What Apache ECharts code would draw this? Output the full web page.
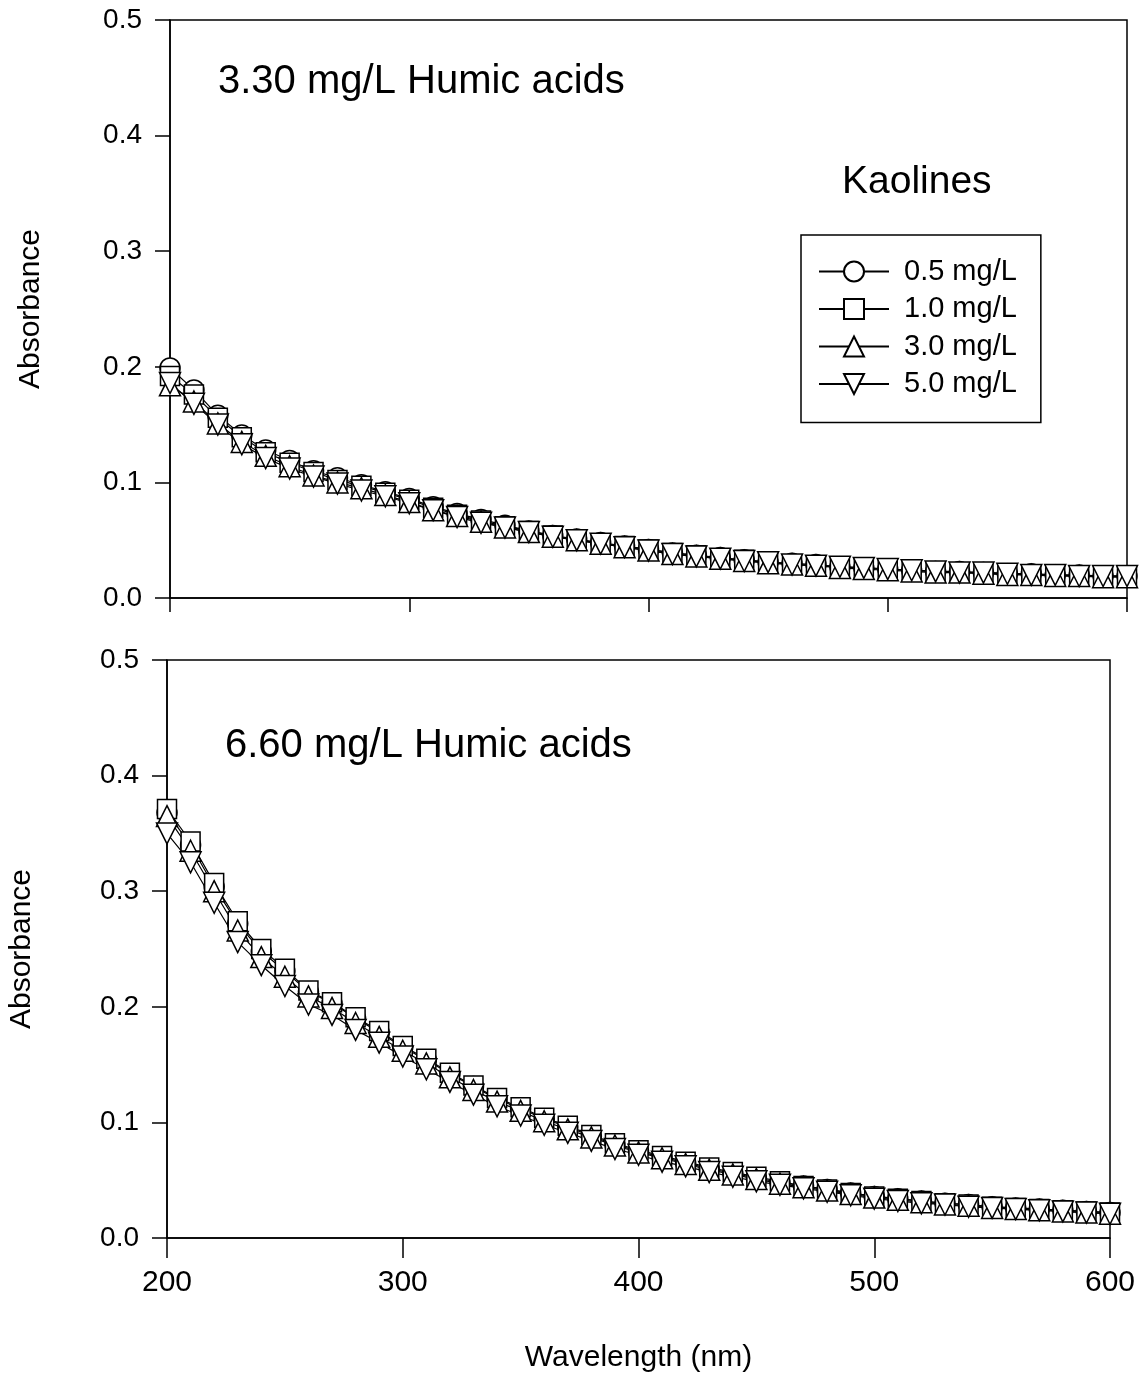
<!DOCTYPE html>
<html>
<head>
<meta charset="utf-8">
<script src="https://cdn.jsdelivr.net/npm/echarts@6/dist/echarts.min.js"></script>
<style>
  html, body { margin: 0; padding: 0; background: #fff; }
  #chart { width: 1147px; height: 1373px; }
</style>
</head>
<body>
<div id="chart"></div>
<script>
// wavelengths, 200..600 nm every 10 nm
const wavelength = [200, 210, 220, 230, 240, 250, 260, 270, 280, 290, 300, 310, 320, 330, 340, 350, 360, 370, 380, 390,
  400, 410, 420, 430, 440, 450, 460, 470, 480, 490, 500, 510, 520, 530, 540, 550, 560, 570, 580, 590, 600];

const seriesNames = ['0.5 mg/L', '1.0 mg/L', '3.0 mg/L', '5.0 mg/L'];
const yTicks = [0.0, 0.1, 0.2, 0.3, 0.4, 0.5];

// 3.30 mg/L humic acids
const top05 = [0.199, 0.180, 0.158, 0.141, 0.128, 0.119, 0.110, 0.104, 0.098, 0.092, 0.086, 0.079, 0.073, 0.068, 0.063, 0.058, 0.054, 0.051, 0.048, 0.045,
  0.042, 0.039, 0.037, 0.035, 0.033, 0.031, 0.030, 0.029, 0.027, 0.026, 0.025, 0.024, 0.023, 0.023, 0.022, 0.021, 0.021, 0.020, 0.020, 0.019, 0.019];
const top10 = [0.192, 0.176, 0.156, 0.139, 0.126, 0.117, 0.109, 0.102, 0.097, 0.091, 0.085, 0.078, 0.072, 0.067, 0.062, 0.058, 0.054, 0.050, 0.047, 0.045,
  0.042, 0.039, 0.037, 0.034, 0.033, 0.031, 0.029, 0.028, 0.027, 0.026, 0.025, 0.024, 0.023, 0.022, 0.022, 0.021, 0.020, 0.020, 0.019, 0.019, 0.019];
const top30 = [0.184, 0.170, 0.151, 0.135, 0.123, 0.114, 0.106, 0.100, 0.095, 0.089, 0.083, 0.076, 0.071, 0.066, 0.061, 0.057, 0.053, 0.050, 0.047, 0.044,
  0.041, 0.038, 0.036, 0.034, 0.032, 0.030, 0.029, 0.028, 0.026, 0.025, 0.024, 0.023, 0.022, 0.022, 0.021, 0.020, 0.020, 0.019, 0.019, 0.018, 0.018];
const top50 = [0.186, 0.168, 0.150, 0.133, 0.121, 0.112, 0.105, 0.099, 0.093, 0.088, 0.082, 0.076, 0.070, 0.065, 0.061, 0.057, 0.053, 0.050, 0.047, 0.044,
  0.041, 0.038, 0.036, 0.034, 0.032, 0.031, 0.029, 0.028, 0.027, 0.026, 0.025, 0.024, 0.023, 0.022, 0.022, 0.021, 0.020, 0.020, 0.019, 0.019, 0.019];

// 6.60 mg/L humic acids
const bot05 = [0.368, 0.340, 0.304, 0.272, 0.248, 0.231, 0.213, 0.203, 0.190, 0.178, 0.165, 0.154, 0.142, 0.131, 0.120, 0.112, 0.103, 0.096, 0.088, 0.081,
  0.075, 0.070, 0.065, 0.060, 0.056, 0.052, 0.048, 0.045, 0.042, 0.039, 0.036, 0.034, 0.032, 0.030, 0.029, 0.027, 0.026, 0.025, 0.024, 0.023, 0.022];
const bot10 = [0.371, 0.343, 0.307, 0.274, 0.250, 0.233, 0.214, 0.204, 0.191, 0.179, 0.166, 0.155, 0.143, 0.132, 0.121, 0.113, 0.104, 0.097, 0.089, 0.082,
  0.076, 0.071, 0.066, 0.061, 0.057, 0.053, 0.049, 0.045, 0.042, 0.039, 0.036, 0.034, 0.032, 0.030, 0.029, 0.027, 0.026, 0.025, 0.024, 0.023, 0.022];
const bot30 = [0.365, 0.335, 0.300, 0.266, 0.243, 0.226, 0.209, 0.199, 0.186, 0.174, 0.162, 0.151, 0.139, 0.128, 0.118, 0.110, 0.101, 0.094, 0.087, 0.080,
  0.074, 0.069, 0.064, 0.059, 0.055, 0.051, 0.047, 0.044, 0.041, 0.038, 0.035, 0.033, 0.031, 0.029, 0.028, 0.026, 0.025, 0.024, 0.023, 0.022, 0.021];
const bot50 = [0.350, 0.325, 0.290, 0.256, 0.236, 0.218, 0.202, 0.193, 0.180, 0.169, 0.157, 0.146, 0.135, 0.124, 0.114, 0.106, 0.098, 0.091, 0.084, 0.077,
  0.072, 0.066, 0.062, 0.057, 0.053, 0.049, 0.046, 0.043, 0.040, 0.037, 0.034, 0.032, 0.030, 0.029, 0.027, 0.026, 0.025, 0.024, 0.023, 0.022, 0.021];

const font = 'Liberation Sans, Arial, sans-serif';
const symbols = [
  { symbol: 'circle', size: 20, rotate: 0 },
  { symbol: 'rect', size: 19, rotate: 0 },
  { symbol: 'triangle', size: 21, rotate: 0 },
  { symbol: 'triangle', size: 21, rotate: 180 }
];

function pairs(ys) {
  return wavelength.map((w, i) => [w, ys[i]]);
}

function makeSeries(data, idx) {
  return data.map((ys, k) => ({
    name: seriesNames[k],
    type: 'line',
    xAxisIndex: idx,
    yAxisIndex: idx,
    data: pairs(ys),
    symbol: symbols[k].symbol,
    symbolSize: symbols[k].size,
    symbolRotate: symbols[k].rotate,
    showAllSymbol: true,
    lineStyle: { color: '#000', width: 1.2 },
    itemStyle: { color: '#fff', borderColor: '#000', borderWidth: 1.5 },
    emphasis: { disabled: true },
    animation: false
  }));
}

function xAxis(idx, showLabels) {
  return {
    type: 'value', gridIndex: idx, min: 200, max: 600, interval: 100,
    axisLine: { lineStyle: { color: '#000', width: 1.5 } },
    axisTick: { show: true, length: showLabels ? 20 : 14, lineStyle: { color: '#000', width: 1.5 } },
    axisLabel: { show: showLabels, color: '#000', fontSize: 30, fontFamily: font, margin: 30 },
    splitLine: { show: false },
    name: showLabels ? 'Wavelength (nm)' : '',
    nameLocation: 'middle', nameGap: 105,
    nameTextStyle: { color: '#000', fontSize: 30, fontFamily: font }
  };
}

function yAxis(idx) {
  return {
    type: 'value', gridIndex: idx, min: 0, max: 0.5, interval: 0.1,
    axisLine: { lineStyle: { color: '#000', width: 1.5 } },
    axisTick: { show: true, length: 15, lineStyle: { color: '#000', width: 1.5 } },
    axisLabel: { color: '#000', fontSize: 28, fontFamily: font, margin: 28, formatter: v => v.toFixed(1) },
    splitLine: { show: false },
    name: 'Absorbance', nameLocation: 'middle', nameGap: idx === 0 ? 124 : 130,
    nameTextStyle: { color: '#000', fontSize: 30, fontFamily: font }
  };
}

const chart = echarts.init(document.getElementById('chart'), null, { renderer: 'canvas' });
chart.setOption({
  backgroundColor: '#fff',
  animation: false,
  grid: [
    { left: 170, right: 20, top: 20, height: 578, outerBoundsMode: 'none', containLabel: false,
      show: true, borderColor: '#000', borderWidth: 1.5, backgroundColor: 'transparent' },
    { left: 167, right: 37, top: 660, height: 578, outerBoundsMode: 'none', containLabel: false,
      show: true, borderColor: '#000', borderWidth: 1.5, backgroundColor: 'transparent' }
  ],
  xAxis: [xAxis(0, false), xAxis(1, true)],
  yAxis: [yAxis(0), yAxis(1)],
  legend: {
    data: seriesNames,
    orient: 'vertical',
    left: 801, top: 235,
    padding: [22, 24, 24, 17],
    itemGap: 8.5,
    itemWidth: 70, itemHeight: 25,
    borderColor: '#000', borderWidth: 1.5,
    backgroundColor: '#fff',
    textStyle: { color: '#000', fontSize: 29, fontFamily: font, padding: [0, 0, 0, 10] },
    selectedMode: false
  },
  graphic: [
    { type: 'text', left: 218, top: 62, style: { text: '3.30 mg/L Humic acids', fill: '#000', fontSize: 40, fontFamily: font } },
    { type: 'text', left: 842, top: 163, style: { text: 'Kaolines', fill: '#000', fontSize: 39, fontFamily: font } },
    { type: 'text', left: 225, top: 726, style: { text: '6.60 mg/L Humic acids', fill: '#000', fontSize: 40, fontFamily: font } }
  ],
  series: makeSeries([top05, top10, top30, top50], 0).concat(makeSeries([bot05, bot10, bot30, bot50], 1))
});
</script>
</body>
</html>
